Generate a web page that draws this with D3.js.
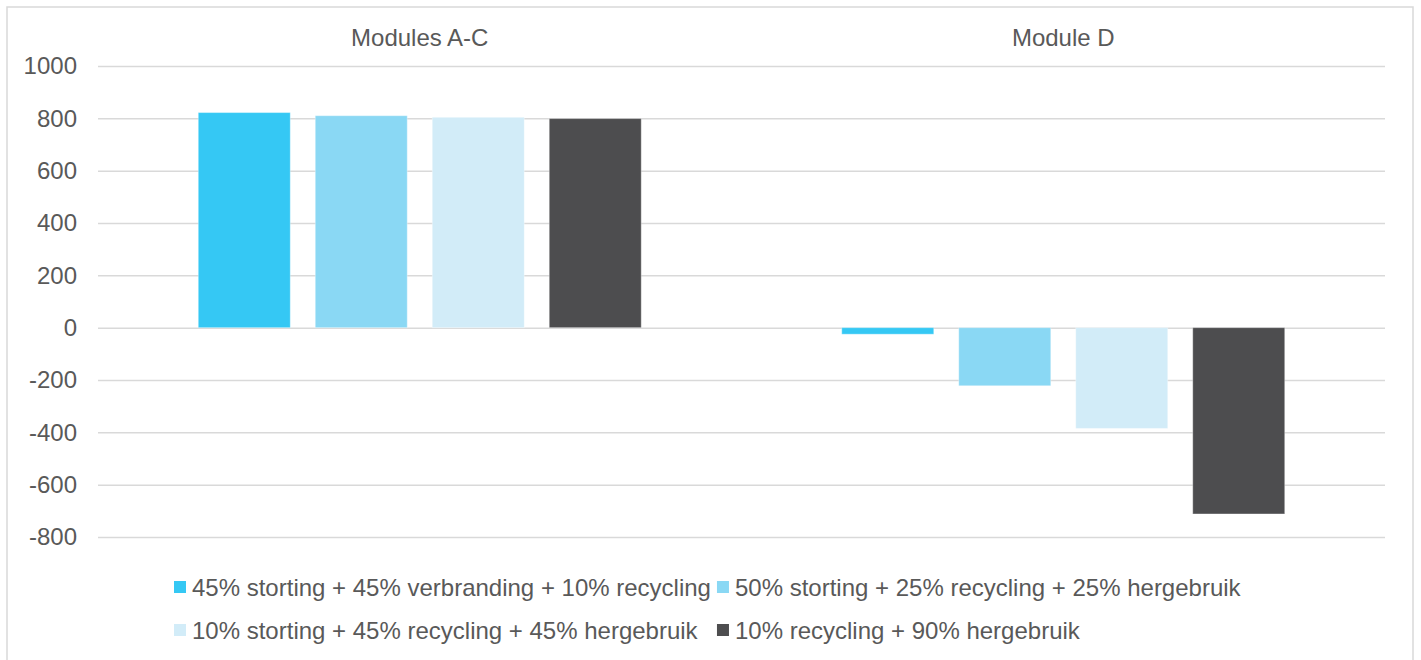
<!DOCTYPE html>
<html lang="nl">
<head>
    <meta charset="UTF-8">
    <title>Modules A-C en Module D</title>
    <script src="https://d3js.org/d3.v7.min.js"></script>
    <style>
        body { margin: 0; background: #fff; }
        svg text { font-family: "Liberation Sans", Arial, sans-serif; fill: #595959; }
    </style>
</head>
<body>
<svg id="chart" width="1421" height="660"></svg>
<script>
    // data
    const categories = ["Modules A-C", "Module D"];
    const series = [
        "45% storting + 45% verbranding + 10% recycling",
        "50% storting + 25% recycling + 25% hergebruik",
        "10% storting + 45% recycling + 45% hergebruik",
        "10% recycling + 90% hergebruik"
    ];
    const colors = ["#35C8F4", "#8AD8F4", "#D2ECF8", "#4D4D4F"];
    const valuesAC = [822, 810, 804, 799];
    const valuesD = [-25, -222, -385, -712];
    const yTicks = [1000, 800, 600, 400, 200, 0, -200, -400, -600, -800];

    const width = 1421, height = 660;
    const margin = {top: 66, right: 36, bottom: 123, left: 98};

    const svg = d3.select("#chart");

    // outer frame
    svg.append("rect")
        .attr("x", 7).attr("y", 7)
        .attr("width", 1406).attr("height", 700)
        .attr("fill", "none")
        .attr("stroke", "#D9D9D9")
        .attr("stroke-width", 1.5);

    const x0 = d3.scaleBand()
        .domain(categories)
        .range([margin.left, width - margin.right]);

    const x1 = d3.scaleBand()
        .domain(series)
        .range([0, x0.bandwidth()])
        .paddingInner(25 / 117)
        .paddingOuter(0.857);

    const y = d3.scaleLinear()
        .domain([-800, 1000])
        .range([height - margin.bottom, margin.top]);

    // gridlines + y labels (plain hyphen for negatives, like Excel)
    const yAxis = d3.axisLeft(y)
        .tickValues(yTicks)
        .tickSize(-(width - margin.left - margin.right))
        .tickPadding(21)
        .tickFormat(d => String(d));

    const gy = svg.append("g")
        .attr("transform", `translate(${margin.left},0)`)
        .call(yAxis);
    gy.select(".domain").remove();
    gy.selectAll(".tick line").attr("stroke", "#D9D9D9").attr("stroke-width", 1.5);
    gy.selectAll(".tick text").attr("font-size", 24).attr("fill", "#595959");

    // category labels on top
    svg.append("g")
        .selectAll("text")
        .data(categories)
        .join("text")
        .attr("x", d => x0(d) + x0.bandwidth() / 2)
        .attr("y", 46)
        .attr("text-anchor", "middle")
        .attr("font-size", 24)
        .text(d => d);

    const rows = [
        {cat: categories[0], vals: valuesAC},
        {cat: categories[1], vals: valuesD}
    ];

    svg.append("g")
        .selectAll("g")
        .data(rows)
        .join("g")
        .attr("transform", d => `translate(${x0(d.cat)},0)`)
        .selectAll("rect")
        .data(d => d.vals.map((v, i) => ({s: series[i], v: v, c: colors[i]})))
        .join("rect")
        .attr("x", d => x1(d.s))
        .attr("width", x1.bandwidth())
        .attr("y", d => y(Math.max(0, d.v)))
        .attr("height", d => Math.abs(y(d.v) - y(0)))
        .attr("fill", d => d.c)
        .attr("stroke", "rgba(255,255,255,0.35)")
        .attr("stroke-width", 1);

    // legend, two rows of two
    const legend = svg.append("g");
    const rowY = [588, 631];
    const items = legend.selectAll("g")
        .data(series)
        .join("g");

    items.append("rect")
        .attr("width", 12).attr("height", 12)
        .attr("y", -7)
        .attr("fill", (d, i) => colors[i]);

    items.append("text")
        .attr("x", 18)
        .attr("y", 0)
        .attr("dy", "0.35em")
        .attr("font-size", 24)
        .text(d => d);

    const col1 = 174;
    const w0 = items.filter((d, i) => i === 0).select("text").node().getComputedTextLength();
    const col2 = col1 + 18 + w0 + 6;
    items.attr("transform", (d, i) => `translate(${i % 2 === 0 ? col1 : col2},${rowY[Math.floor(i / 2)]})`);
</script>
</body>
</html>
